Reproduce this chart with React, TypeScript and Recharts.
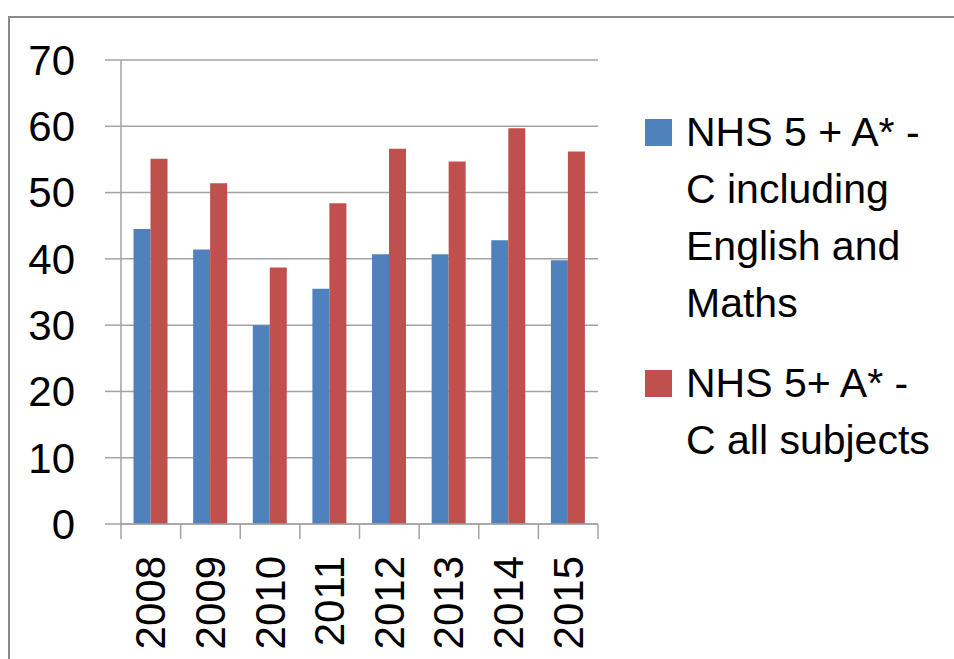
import { BarChart, Bar, XAxis, YAxis, CartesianGrid, Legend } from 'recharts';

const years = ['2008', '2009', '2010', '2011', '2012', '2013', '2014', '2015'];
const englishMaths = [44.5, 41.4, 30, 35.5, 40.7, 40.7, 42.8, 39.8];
const allSubjects = [55.1, 51.4, 38.7, 48.4, 56.6, 54.7, 59.7, 56.2];
const yTicks = [0, 10, 20, 30, 40, 50, 60, 70];

const seriesNames = [
    'NHS 5 + A* - C including English and Maths',
    'NHS 5+ A* - C all subjects',
];
const legendLines = [
    ['NHS 5 + A* -', 'C including', 'English and', 'Maths'],
    ['NHS 5+ A* -', 'C all subjects'],
];
const colors = ['#4F81BD', '#C0504D'];

const data = years.map((year, i) => ({
    year,
    a: englishMaths[i],
    b: allSubjects[i],
}));

const FONT = '"Liberation Sans", Arial, sans-serif';
const GRID = '#a3a3a3';

const YearTick = (props: any) => {
    const { x, y, payload, index } = props;
    const half = payload?.offset ?? 477 / 16;
    return (
        <g>
            <line x1={x - half} x2={x - half} y1={y} y2={y + 15} stroke={GRID} strokeWidth={1.5} />
            {index === years.length - 1 && (
                <line x1={x + half} x2={x + half} y1={y} y2={y + 15} stroke={GRID} strokeWidth={1.5} />
            )}
            <text
                x={x}
                y={y + 32}
                transform={`rotate(-90, ${x}, ${y + 32})`}
                textAnchor="end"
                dominantBaseline="central"
                fontSize={42}
                fontFamily={FONT}
                fill="#000"
            >
                {payload.value}
            </text>
        </g>
    );
};

const renderLegend = () => (
    <div style={{ fontFamily: FONT, fontSize: 41, color: '#000' }}>
        {legendLines.map((lines, i) => (
            <div
                key={seriesNames[i]}
                style={{ display: 'flex', alignItems: 'flex-start', marginBottom: 23 }}
            >
                <div
                    style={{
                        width: 27,
                        height: 27,
                        marginTop: 15,
                        marginRight: 14,
                        background: colors[i],
                        flexShrink: 0,
                    }}
                />
                <div>
                    {lines.map((line) => (
                        <div key={line} style={{ lineHeight: '57px', whiteSpace: 'nowrap' }}>
                            {line}
                        </div>
                    ))}
                </div>
            </div>
        ))}
    </div>
);

const App = () => {
    return (
        <div
            style={{
                position: 'fixed',
                left: 0,
                top: 0,
                width: 954,
                height: 659,
                overflow: 'hidden',
                background: '#fff',
            }}
        >
            <div
                style={{
                    position: 'absolute',
                    left: 8,
                    top: 16,
                    width: 1000,
                    height: 700,
                    border: '2px solid #8c8c8c',
                    boxSizing: 'border-box',
                }}
            />
            <div style={{ position: 'absolute', left: 0, top: 0 }}>
                <BarChart
                    width={954}
                    height={659}
                    data={data}
                    margin={{ top: 60, right: 356, left: 0, bottom: 0 }}
                    barCategoryGap="21%"
                    barGap={0}
                    style={{ fontFamily: FONT }}
                >
                    <CartesianGrid vertical={false} stroke={GRID} strokeWidth={1.5} />
                    <XAxis
                        dataKey="year"
                        height={135}
                        tickSize={0}
                        tickMargin={0}
                        tickLine={false}
                        axisLine={{ stroke: GRID, strokeWidth: 1.5 }}
                        tick={<YearTick />}
                        interval={0}
                    />
                    <YAxis
                        width={121}
                        domain={[0, 70]}
                        ticks={yTicks}
                        tickSize={16}
                        tickMargin={30}
                        tickLine={{ stroke: GRID, strokeWidth: 1.5 }}
                        axisLine={{ stroke: GRID, strokeWidth: 1.5 }}
                        tick={{ fontSize: 42, fill: '#000', fontFamily: FONT }}
                    />
                    <Legend
                        layout="vertical"
                        align="center"
                        verticalAlign="middle"
                        content={renderLegend}
                        wrapperStyle={{ left: 645, top: 104, width: 305 }}
                    />
                    <Bar dataKey="a" name={seriesNames[0]} fill={colors[0]} isAnimationActive={false} />
                    <Bar dataKey="b" name={seriesNames[1]} fill={colors[1]} isAnimationActive={false} />
                </BarChart>
            </div>
        </div>
    );
};

export default App;
